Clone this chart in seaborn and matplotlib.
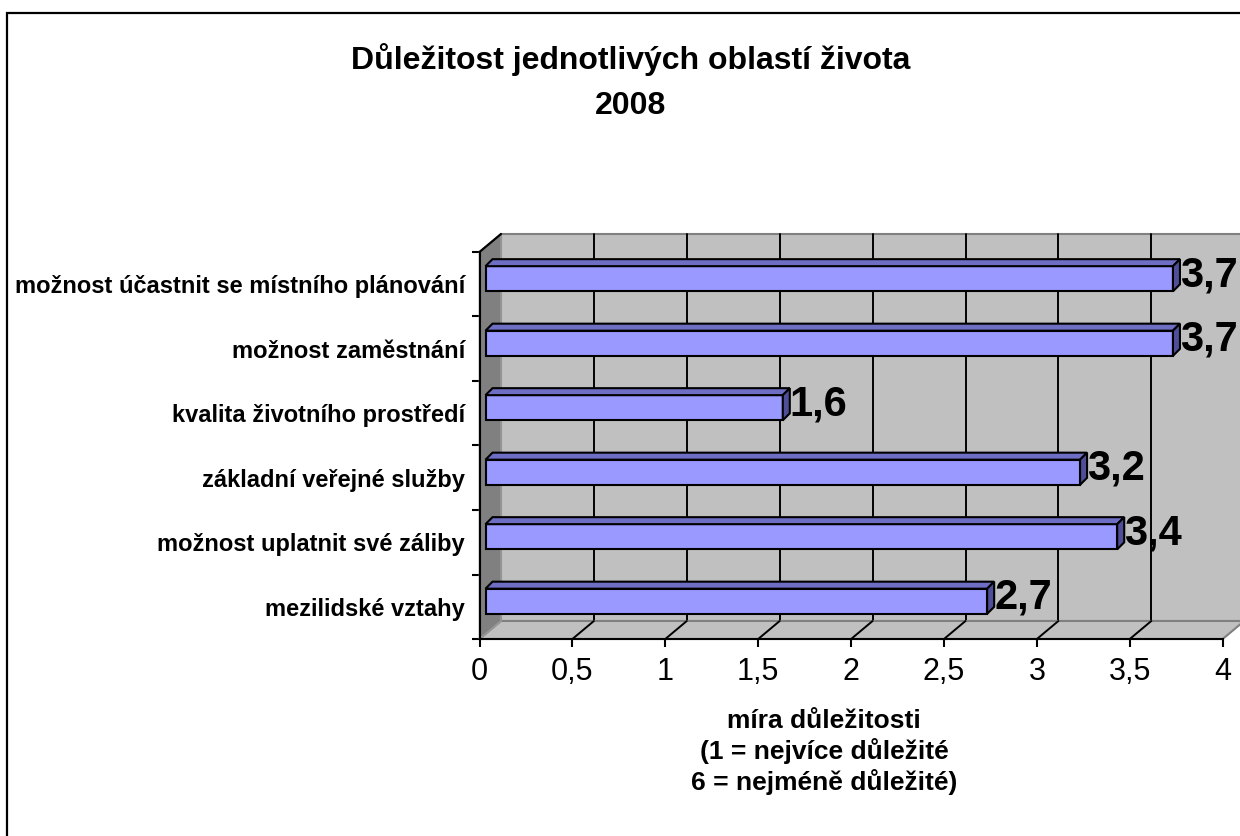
import matplotlib
matplotlib.use("Agg")
import matplotlib.pyplot as plt
import matplotlib.transforms as mtransforms
from matplotlib.patches import Polygon, Rectangle
from matplotlib.ticker import FuncFormatter, FixedLocator
import seaborn as sns
import pandas as pd

# ---- data ----
categories = [
    "možnost účastnit se místního plánování",
    "možnost zaměstnání",
    "kvalita životního prostředí",
    "základní veřejné služby",
    "možnost uplatnit své záliby",
    "mezilidské vztahy",
]
values = [3.7, 3.7, 1.6, 3.2, 3.4, 2.7]
title_lines = "Důležitost jednotlivých oblastí života\n2008"
xlabel_text = "míra důležitosti\n(1 = nejvíce důležité\n6 = nejméně důležité)"
x_ticks = [0, 0.5, 1, 1.5, 2, 2.5, 3, 3.5, 4]

df = pd.DataFrame({"oblast": categories, "hodnota": values})

sns.set_style("white")
plt.rcParams["font.family"] = ["Liberation Sans", "DejaVu Sans"]
plt.rcParams["text.color"] = "black"
plt.rcParams["axes.labelcolor"] = "black"
plt.rcParams["xtick.color"] = "black"
plt.rcParams["ytick.color"] = "black"

W, H = 1240, 836
fig = plt.figure(figsize=(W / 100, H / 100), dpi=100)
fig.patch.set_facecolor("white")

# axes at the front plane of the 3D box (pixel layout)
ax_l, ax_r, ax_t, ax_b = 479.5, 1222.7, 252, 639
ax = fig.add_axes([ax_l / W, 1 - ax_b / H, (ax_r - ax_l) / W, (ax_b - ax_t) / H])
ax.patch.set_visible(False)

sns.barplot(data=df, x="hodnota", y="oblast", orient="h", color="#9999FF",
            saturation=1, edgecolor="black", linewidth=1.5, width=0.39, ax=ax,
            zorder=3)

ax.set_xlim(0, 4)
ax.set_ylim(5.5, -0.5)

ux = (ax_r - ax_l) / 4.0
uy = (ax_b - ax_t) / 6.0
# wall depth (data units)
WX, WY = 21.5 / ux, 18.0 / uy
# bar depth
DX, DY = 7.0 / ux, 7.0 / uy

wall_gray = "#C0C0C0"
side_gray = "#808080"

# back wall
ax.add_patch(Polygon([(WX, -0.5 - WY), (4 + WX, -0.5 - WY), (4 + WX, 5.5 - WY), (WX, 5.5 - WY)],
                     closed=True, facecolor=wall_gray, edgecolor=side_gray, lw=1.5,
                     clip_on=False, zorder=0.5))
# gridlines on back wall and floor
for v in x_ticks[1:-1]:
    ax.plot([v + WX, v + WX], [-0.5 - WY, 5.5 - WY], color="black", lw=1.4,
            clip_on=False, zorder=0.6)
# floor
ax.add_patch(Polygon([(0, 5.5), (4, 5.5), (4 + WX, 5.5 - WY), (WX, 5.5 - WY)],
                     closed=True, facecolor=wall_gray, edgecolor=side_gray, lw=1.5,
                     clip_on=False, zorder=0.7))
for v in x_ticks[1:-1]:
    ax.plot([v, v + WX], [5.5, 5.5 - WY], color="black", lw=1.4,
            clip_on=False, zorder=0.75)
# left wall
ax.add_patch(Polygon([(0, -0.5), (WX, -0.5 - WY), (WX, 5.5 - WY), (0, 5.5)],
                     closed=True, facecolor=side_gray, edgecolor="#999999", lw=1.2,
                     clip_on=False, zorder=0.8))
ax.plot([0, WX], [-0.5, -0.5 - WY], color="black", lw=1.6, clip_on=False, zorder=0.85)

# bars: shift into the depth and add top / side faces
bar_tr = mtransforms.offset_copy(ax.transData, fig=fig, x=6, y=5.5, units="dots")
bars = [pp for pp in ax.patches if isinstance(pp, Rectangle)][:len(values)]
for p, v in zip(bars, values):
    p.set_transform(bar_tr)
    x0, y0, w, h = p.get_x(), p.get_y(), p.get_width(), p.get_height()
    top = Polygon([(x0, y0), (x0 + w, y0), (x0 + w + DX, y0 - DY), (x0 + DX, y0 - DY)],
                  closed=True, facecolor="#6E6EC4", edgecolor="black", lw=1.5,
                  transform=bar_tr, clip_on=False, zorder=3)
    side = Polygon([(x0 + w, y0), (x0 + w, y0 + h), (x0 + w + DX, y0 + h - DY), (x0 + w + DX, y0 - DY)],
                   closed=True, facecolor="#4F4F99", edgecolor="black", lw=1.5,
                   transform=bar_tr, clip_on=False, zorder=3)
    ax.add_patch(top)
    ax.add_patch(side)
    ax.text(x0 + w + DX, y0 + h / 2 - DY / 2, f"{v:.1f}".replace(".", ","),
            transform=bar_tr, ha="left", va="center", fontsize=30,
            fontweight="bold", color="black", clip_on=False, zorder=4)

# spines / ticks
for s in ["top", "right"]:
    ax.spines[s].set_visible(False)
for s in ["left", "bottom"]:
    ax.spines[s].set_visible(True)
    ax.spines[s].set_color("black")
    ax.spines[s].set_linewidth(1.5)
    ax.spines[s].set_zorder(2.5)

ax.xaxis.set_major_locator(FixedLocator(x_ticks))
ax.xaxis.set_major_formatter(FuncFormatter(lambda v, pos: f"{v:g}".replace(".", ",")))
ax.tick_params(axis="x", which="major", direction="out", length=6, width=1.5,
               color="black", labelcolor="black", labelsize=22, pad=7, bottom=True)
ax.yaxis.set_minor_locator(FixedLocator([i - 0.5 for i in range(7)]))
ax.tick_params(axis="y", which="major", length=0, pad=10.5, labelsize=17,
               labelcolor="black")
ax.tick_params(axis="y", which="minor", direction="out", length=6, width=1.5,
               color="black", left=True)
for lab in ax.get_yticklabels():
    lab.set_fontweight("bold")

ax.set_ylabel("")
ax.set_xlabel(xlabel_text, fontsize=19, fontweight="bold", linespacing=1.25,
              color="black")
ax.xaxis.label.set_va("center")
ax.xaxis.set_label_coords((824 - ax_l) / (ax_r - ax_l), (ax_b - 752) / (ax_b - ax_t))

fig.suptitle(title_lines, x=631 / W, y=1 - 82 / H, va="center", fontsize=23,
             fontweight="bold", linespacing=1.64, color="black")

# outer chart border
fig.add_artist(Rectangle((7 / W, -0.2), 1.3, 1.2 - 13 / H, transform=fig.transFigure,
                         fill=False, edgecolor="black", lw=1.6))

fig.savefig("out.png", dpi=100)
